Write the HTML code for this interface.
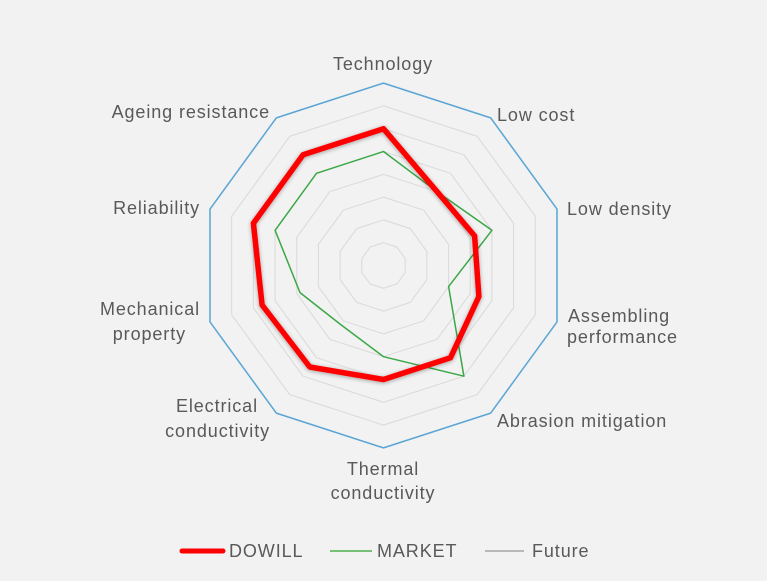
<!DOCTYPE html>
<html><head><meta charset="utf-8"><style>
html,body{margin:0;padding:0;background:#f2f2f2;}
svg{display:block;font-family:"Liberation Sans",Arial,sans-serif;}
text{fill:#595959;font-size:18px;letter-spacing:0.9px;}
</style></head><body>
<svg id="s" width="767" height="581" viewBox="0 0 767 581" xmlns="http://www.w3.org/2000/svg">
<defs><filter id="sh" x="-20%" y="-20%" width="140%" height="140%"><feGaussianBlur in="SourceAlpha" stdDeviation="2"/><feOffset dx="0" dy="1"/><feComponentTransfer><feFuncA type="linear" slope="0.35"/></feComponentTransfer><feMerge><feMergeNode/><feMergeNode in="SourceGraphic"/></feMerge></filter></defs>
<g id="g"></g>
<text x="383" y="70" text-anchor="middle">Technology</text>
<text x="497" y="121">Low cost</text>
<text x="567" y="215">Low density</text>
<text x="568" y="322">Assembling</text>
<text x="567" y="343">performance</text>
<text x="497" y="427">Abrasion mitigation</text>
<text x="383" y="475" text-anchor="middle">Thermal</text>
<text x="383" y="499" text-anchor="middle">conductivity</text>
<text x="258" y="412" text-anchor="end">Electrical</text>
<text x="270" y="437" text-anchor="end">conductivity</text>
<text x="200" y="315" text-anchor="end">Mechanical</text>
<text x="186" y="340" text-anchor="end">property</text>
<text x="200" y="214" text-anchor="end">Reliability</text>
<text x="270" y="118" text-anchor="end">Ageing  resistance</text>
<line x1="182" y1="551" x2="223" y2="551" stroke="#ff0000" stroke-width="5" stroke-linecap="round"/>
<text x="229" y="557">DOWILL</text>
<line x1="330" y1="551" x2="372" y2="551" stroke="#4caf50" stroke-width="1.5"/>
<text x="377" y="557">MARKET</text>
<line x1="485" y1="551" x2="524" y2="551" stroke="#808080" stroke-width="1"/>
<text x="532" y="557">Future</text>
</svg>
<script>
var cx=383.5,cy=265.5,u=22.8,g=document.getElementById('g'),ns="http://www.w3.org/2000/svg";
function pts(vals){return vals.map(function(v,i){var a=i*Math.PI/5;return (cx+v*u*Math.sin(a)).toFixed(1)+","+(cy-v*u*Math.cos(a)).toFixed(1);}).join(" ");}
function poly(vals,stroke,w,f){var p=document.createElementNS(ns,"polygon");p.setAttribute("points",pts(vals));p.setAttribute("fill","none");p.setAttribute("stroke",stroke);p.setAttribute("stroke-width",w);p.setAttribute("stroke-linejoin","round");if(f)p.setAttribute("filter","url(#sh)");g.appendChild(p);}
for(var k=1;k<=7;k++){var a=[];for(var i=0;i<10;i++)a.push(k);poly(a,"#d9d9d9",1);}
poly([8,8,8,8,8,8,8,8,8,8],"#5aa5d5",1.5);
poly([5,4,5,3,6,4,3.2,3.85,5,5],"#3aa846",1.5);
poly([6,4,4.2,4.4,5,5,5.5,5.6,6,6],"#ff0000",5.5,true);
</script>
</body></html>
